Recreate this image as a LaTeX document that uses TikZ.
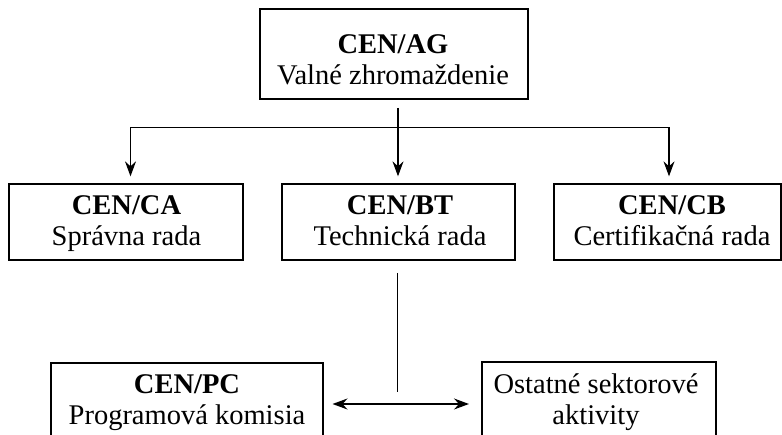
\documentclass[tikz,border=0pt]{standalone}
\usepackage{fontspec}
\setmainfont{Liberation Serif}
\usetikzlibrary{arrows.meta}
\begin{document}
\begin{tikzpicture}[x=1pt,y=-1pt,
  >={Stealth[length=15pt,width=11pt,inset=5pt]},
  box/.style={draw, line width=1.3pt, rectangle, inner sep=0pt},
  lbl/.style={align=center, inner sep=0pt, anchor=north, font=\fontsize{28.5}{31}\selectfont},
  conn/.style={line width=1.3pt, ->},
  link/.style={line width=1.3pt},
]
\useasboundingbox (0,0) rectangle (782,435);
\clip (0,0) rectangle (782,435);
% boxes
\node[box, minimum width=268pt, minimum height=90pt] (ag) at (394,54) {};
\node[box, minimum width=234pt, minimum height=76pt] (ca) at (126,222) {};
\node[box, minimum width=233pt, minimum height=76pt] (bt) at (398.5,222) {};
\node[box, minimum width=227pt, minimum height=76pt] (cb) at (667.6,222) {};
\node[box, minimum width=272pt, minimum height=100pt] (pc) at (187,413) {};
\node[box, minimum width=234pt, minimum height=100pt] (os) at (599,412) {};
% texts
\node[lbl] (agt) at (393,34) {\textbf{CEN/AG}\\Valné zhromaždenie};
\node[lbl] (cat) at (126.5,195.5) {\textbf{CEN/CA}\\Správna rada};
\node[lbl] (btt) at (400,195.5) {\textbf{CEN/BT}\\Technická rada};
\node[lbl] (cbt) at (672,195.5) {\textbf{CEN/CB}\\Certifikačná rada};
\node[lbl] (pct) at (187,374.5) {\textbf{CEN/PC}\\Programová komisia};
\node[lbl] (ost) at (596,373.5) {Ostatné sektorové\\aktivity};
% connectors
\coordinate (agout) at (398,108);
\coordinate (hl) at (130.5,127.5);
\coordinate (hr) at (669,127.5);
\draw[link] (hl) -- (hr);
\draw[conn] (agout) -- ([yshift=7pt]bt.north -| agout);
\draw[conn] (hl) -- ([yshift=7pt]ca.north -| hl);
\draw[conn] (hr) -- ([yshift=7pt]cb.north -| hr);
\coordinate (btout) at (397.5,273);
\coordinate (btend) at (397.5,392);
\draw[link] (btout) -- (btend);
\coordinate (al) at (332.5,404);
\coordinate (ar) at (469,404);
\draw[link, <->] (al) -- (ar);
\end{tikzpicture}
\end{document}
